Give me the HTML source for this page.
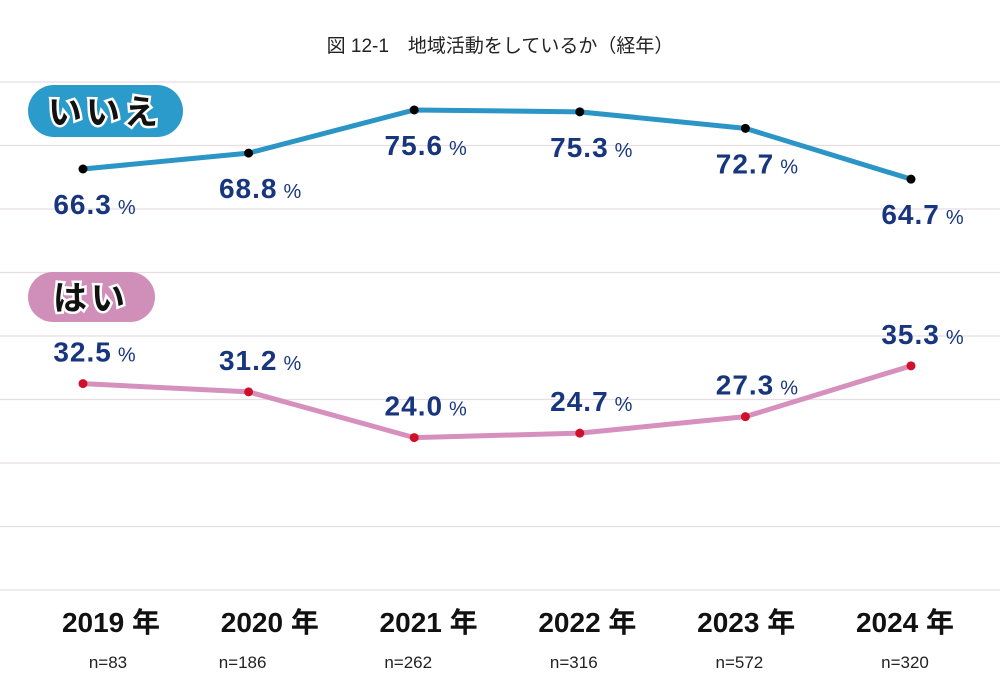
<!DOCTYPE html>
<html><head><meta charset="utf-8"><style>
body{margin:0;background:#fff;}
svg{display:block;font-family:"Liberation Sans","Noto Sans CJK JP",sans-serif;}
</style></head><body>
<svg id="c" width="1000" height="693" viewBox="0 0 1000 693">
<text x="500" y="52" text-anchor="middle" font-size="19" fill="#222">図 12-1　地域活動をしているか（経年）</text>
<g id="grid"></g>
<g id="series"></g>
<g>
<rect x="28" y="85" width="155" height="52" rx="26" fill="#2b9bcc"/>
<text x="105" y="124" text-anchor="middle" font-size="34" font-weight="bold" fill="#111" stroke="#fff" stroke-width="5" paint-order="stroke" letter-spacing="4">いいえ</text>
</g>
<g>
<rect x="28" y="272" width="127" height="50" rx="25" fill="#d08fb8"/>
<text x="91" y="310" text-anchor="middle" font-size="34" font-weight="bold" fill="#111" stroke="#fff" stroke-width="5" paint-order="stroke" letter-spacing="4">はい</text>
</g>
<g id="xaxis"></g>
</svg>
<script>
const categories=["2019年","2020年","2021年","2022年","2023年","2024年"];
const sampleSizes=["n=83","n=186","n=262","n=316","n=572","n=320"];
const iieValues=[66.3,68.8,75.6,75.3,72.7,64.7];
const haiValues=[32.5,31.2,24.0,24.7,27.3,35.3];
const gridTicks=[0,10,20,30,40,50,60,70,80,90,100];
const NS="http://www.w3.org/2000/svg";
function x(i){return 83+i*165.6;}
function xl(i){return 111+i*158.8;}
function y(v){return 590-v*6.35;}
function mk(tag,attrs,parent){const e=document.createElementNS(NS,tag);for(const k in attrs)e.setAttribute(k,attrs[k]);parent.appendChild(e);return e;}
const grid=document.getElementById('grid');
gridTicks.forEach(t=>{const yy=y(t);if(yy<75)return;
const l=mk('line',{x1:0,x2:1000,y1:yy,y2:yy,stroke:'#e8dde3','stroke-width':1.2},grid);

});
const ser=document.getElementById('series');
function drawSeries(vals,color,dot,name,off){
const p=mk('polyline',{points:vals.map((v,i)=>x(i)+','+y(v)).join(' '),fill:'none',stroke:color,'stroke-width':5,'stroke-linejoin':'round'},ser);


vals.forEach((v,i)=>{
const c=mk('circle',{cx:x(i),cy:y(v),r:4.5,fill:dot},ser);


const t=mk('text',{x:x(i)+12,y:y(v)+off,'text-anchor':'middle','font-size':28,'font-weight':'bold',fill:'#17367d','letter-spacing':1},ser);
t.innerHTML=v.toFixed(1)+'<tspan font-size="20" font-weight="normal" dx="6">%</tspan>';

});}
drawSeries(iieValues,'#2b95c6','#000','iie',45);
drawSeries(haiValues,'#d690be','#d0102a','hai',-22);
const xa=document.getElementById('xaxis');
categories.forEach((c,i)=>{
const t=mk('text',{x:xl(i),y:632,'text-anchor':'middle','font-size':28,'font-weight':'bold',fill:'#111'},xa);
t.textContent=c.replace('年',' 年');


const n=mk('text',{x:i===0?108:x(i)-6,y:668,'text-anchor':'middle','font-size':17,fill:'#222'},xa);
n.textContent=sampleSizes[i];

});
</script>
</body></html>
